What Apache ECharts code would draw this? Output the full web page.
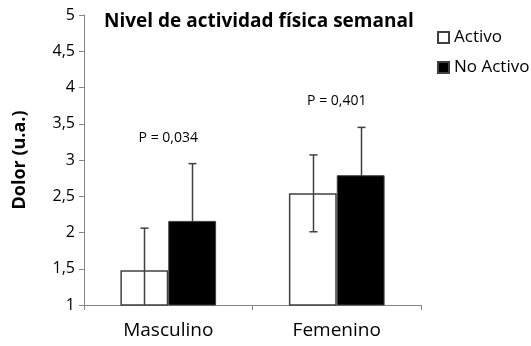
<!DOCTYPE html>
<html>
<head>
<meta charset="utf-8">
<script src="https://cdn.jsdelivr.net/npm/echarts@6/dist/echarts.min.js"></script>
<style>html,body{margin:0;padding:0;background:#fff}#c{width:531px;height:346px}</style>
</head>
<body>
<div id="c"></div>
<script>
var categories = ['Masculino', 'Femenino'];
var seriesNames = ['Activo', 'No Activo'];
var activoMean = [1.48, 2.54];
var activoErr = [0.58, 0.53];
var noActivoMean = [2.16, 2.79];
var noActivoErr = [0.79, 0.66];
var pLabels = ['P = 0,034', 'P = 0,401'];
var yTicks = [1, 1.5, 2, 2.5, 3, 3.5, 4, 4.5, 5];

var FONT = '"Open Sans", sans-serif';
var chart = echarts.init(document.getElementById('c'), null, {renderer: 'canvas'});

function errSeries(means, errs, side, z) {
  return {
    type: 'custom',
    clip: true,
    z: z,
    data: means.map(function (m, i) { return [i, m - errs[i], m + errs[i]]; }),
    renderItem: function (params, api) {
      var band = api.size([1, 0])[0];
      var off = side * band * 0.142;
      var lo = api.coord([api.value(0), api.value(1)]);
      var hi = api.coord([api.value(0), api.value(2)]);
      var x = Math.round(lo[0] + off) + 0.5;
      var cap = 4;
      var st = {stroke: '#404040', lineWidth: 1.5};
      return {
        type: 'group',
        children: [
          {type: 'line', shape: {x1: x, y1: lo[1], x2: x, y2: hi[1]}, style: st},
          {type: 'line', shape: {x1: x - cap, y1: hi[1], x2: x + cap, y2: hi[1]}, style: st},
          {type: 'line', shape: {x1: x - cap, y1: lo[1], x2: x + cap, y2: lo[1]}, style: st}
        ]
      };
    }
  };
}

var option = {
  animation: false,
  backgroundColor: '#fff',
  title: {
    text: 'Nivel de actividad física semanal',
    left: 99, top: 7,
    textStyle: {fontFamily: FONT, fontSize: 19, fontWeight: 'bold', color: '#000'}
  },
  legend: {
    orient: 'vertical',
    left: 432, top: 24,
    itemWidth: 11, itemHeight: 11, itemGap: 13,
    icon: 'rect',
    data: seriesNames,
    textStyle: {fontFamily: FONT, fontSize: 17, color: '#000'}
  },
  grid: {left: 84, right: 110, top: 15, bottom: 41},
  xAxis: {
    type: 'category',
    data: categories,
    axisLine: {lineStyle: {color: '#868686', width: 1}},
    axisTick: {show: true, length: 5, lineStyle: {color: '#868686'}},
    axisLabel: {fontFamily: FONT, fontSize: 19, color: '#000', margin: 16}
  },
  yAxis: {
    type: 'value',
    min: 1, max: 5, interval: 0.5,
    name: 'Dolor (u.a.)',
    nameLocation: 'middle',
    nameGap: 55,
    nameTextStyle: {fontFamily: FONT, fontSize: 18, fontWeight: 'bold', color: '#000'},
    axisLine: {show: true, lineStyle: {color: '#868686', width: 1}},
    axisTick: {show: true, length: 5, lineStyle: {color: '#868686'}},
    splitLine: {show: false},
    axisLabel: {
      fontFamily: FONT, fontSize: 16, color: '#000', margin: 9,
      formatter: function (v) { return yTicks.indexOf(v) >= 0 ? String(v).replace('.', ',') : ''; }
    }
  },
  series: [
    {
      name: seriesNames[0], type: 'bar', data: activoMean, z: 2,
      barWidth: '28.4%', barGap: '0%',
      itemStyle: {color: '#ffffff', borderColor: '#404040', borderWidth: 1.5}
    },
    {
      name: seriesNames[1], type: 'bar', data: noActivoMean, z: 2,
      barWidth: '28.4%', barGap: '0%',
      itemStyle: {color: '#000000', borderColor: '#404040', borderWidth: 1}
    },
    errSeries(activoMean, activoErr, -1, 5),
    errSeries(noActivoMean, noActivoErr, 1, 1),
    {
      type: 'custom',
      clip: false,
      z: 6,
      data: categories.map(function (c, i) {
        return [i, Math.max(activoMean[i] + activoErr[i], noActivoMean[i] + noActivoErr[i])];
      }),
      renderItem: function (params, api) {
        var p = api.coord([api.value(0), api.value(1)]);
        return {
          type: 'text',
          x: p[0], y: p[1] - 26,
          style: {text: pLabels[params.dataIndex], fontFamily: FONT, fontSize: 14, fill: '#000',
                  align: 'center', verticalAlign: 'middle'}
        };
      }
    }
  ]
};
chart.setOption(option);
</script>
</body>
</html>
